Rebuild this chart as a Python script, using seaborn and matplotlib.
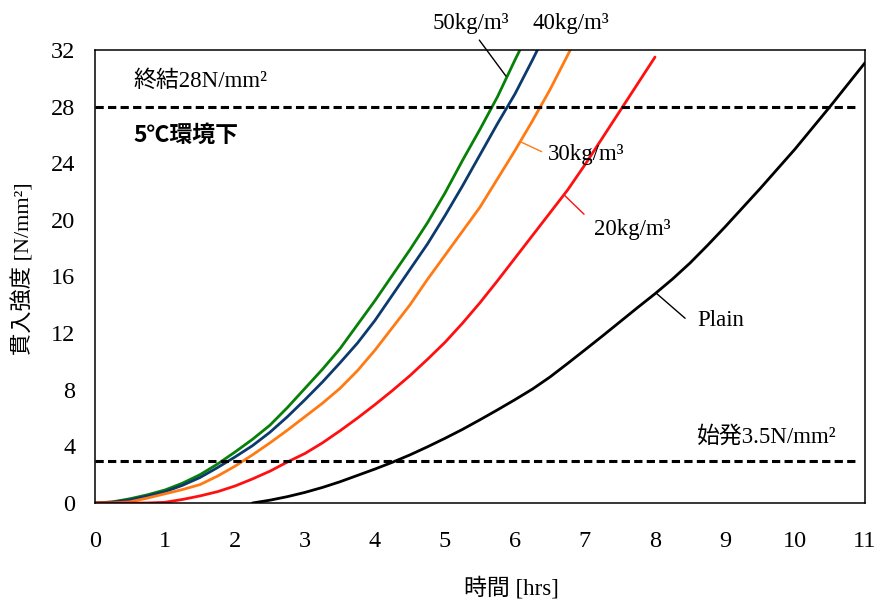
import numpy as np
import pandas as pd
import matplotlib
matplotlib.use("Agg")
import matplotlib.pyplot as plt
import seaborn as sns

# ---- data ----
x_50 = [0, 0.25, 0.5, 0.75, 1.0, 1.25, 1.5, 1.75, 2.0, 2.25, 2.5, 2.75, 3.0, 3.25, 3.5,
        3.75, 4.0, 4.25, 4.5, 4.75, 5.0, 5.25, 5.5, 5.75, 6.0, 6.07]
y_50 = [0, 0.08, 0.3, 0.58, 0.92, 1.4, 2.0, 2.75, 3.6, 4.5, 5.5, 6.75, 8.1, 9.45, 10.9,
        12.6, 14.3, 16.1, 17.9, 19.8, 21.9, 24.2, 26.4, 28.7, 31.3, 32.0]

x_40 = [0, 0.25, 0.5, 0.75, 1.0, 1.25, 1.5, 1.75, 2.0, 2.25, 2.5, 2.75, 3.0, 3.25, 3.5,
        3.75, 4.0, 4.25, 4.5, 4.75, 5.0, 5.25, 5.5, 5.75, 6.0, 6.25, 6.32]
y_40 = [0, 0.06, 0.22, 0.5, 0.8, 1.25, 1.8, 2.5, 3.25, 4.05, 5.0, 6.1, 7.3, 8.55, 9.9,
        11.3, 12.9, 14.7, 16.5, 18.3, 20.3, 22.4, 24.6, 26.8, 28.9, 31.3, 32.0]

x_30 = [0, 0.25, 0.5, 0.75, 1.0, 1.25, 1.5, 1.75, 2.0, 2.25, 2.5, 2.75, 3.0, 3.25, 3.5,
        3.75, 4.0, 4.25, 4.5, 4.75, 5.0, 5.25, 5.5, 5.75, 6.0, 6.25, 6.5, 6.79]
y_30 = [0, 0.0, 0.08, 0.35, 0.65, 0.95, 1.3, 1.9, 2.6, 3.4, 4.25, 5.15, 6.1, 7.05, 8.1,
        9.35, 10.8, 12.4, 14.0, 15.8, 17.5, 19.2, 20.9, 22.9, 24.9, 27.0, 29.2, 32.0]

x_20 = [0, 0.5, 0.75, 1.0, 1.25, 1.5, 1.75, 2.0, 2.25, 2.5, 2.75, 3.0, 3.25, 3.5, 3.75,
        4.0, 4.25, 4.5, 4.75, 5.0, 5.25, 5.5, 5.75, 6.0, 6.25, 6.5, 6.75, 7.0, 7.25,
        7.5, 7.75, 8.0]
y_20 = [0, 0.0, 0.0, 0.05, 0.25, 0.5, 0.8, 1.2, 1.7, 2.25, 2.9, 3.5, 4.25, 5.1, 6.0,
        6.95, 7.95, 9.0, 10.15, 11.35, 12.7, 14.15, 15.7, 17.3, 18.9, 20.5, 22.1, 23.9, 25.8,
        27.7, 29.6, 31.5]

x_plain = [2.25, 2.5, 2.75, 3.0, 3.25, 3.5, 3.75, 4.0, 4.25, 4.5, 4.75, 5.0, 5.25, 5.5,
           5.75, 6.0, 6.25, 6.5, 6.75, 7.0, 7.25, 7.5, 7.75, 8.0, 8.25, 8.5, 8.75, 9.0,
           9.25, 9.5, 9.75, 10.0, 10.25, 10.5, 10.75, 11.0]
y_plain = [0, 0.2, 0.45, 0.75, 1.1, 1.5, 1.95, 2.4, 2.88, 3.4, 3.97, 4.57, 5.2, 5.88,
           6.58, 7.3, 8.05, 8.9, 9.85, 10.82, 11.8, 12.8, 13.8, 14.78, 15.82, 16.95, 18.2, 19.5,
           20.85, 22.2, 23.6, 25.0, 26.5, 28.0, 29.55, 31.1]

series_names = ["50kg/m³", "40kg/m³", "30kg/m³", "20kg/m³", "Plain"]
series_colors = ["#078007", "#0b3a6e", "#ff7a12", "#ff1010", "#000000"]

initial_set = 3.0    # 始発
final_set = 28.0     # 終結

x_ticks = list(range(0, 12))
y_ticks = list(range(0, 33, 4))

# ---- build long table ----
frames = []
for name, xs, ys in zip(series_names,
                        [x_50, x_40, x_30, x_20, x_plain],
                        [y_50, y_40, y_30, y_20, y_plain]):
    frames.append(pd.DataFrame({"time": xs, "strength": ys, "series": name}))
df = pd.concat(frames, ignore_index=True)

sns.set_theme(style="white")
plt.rcParams["font.family"] = ["Liberation Serif", "Noto Sans CJK JP", "DejaVu Sans"]
for k in ("text.color", "axes.labelcolor", "xtick.color", "ytick.color", "axes.edgecolor"):
    plt.rcParams[k] = "black"

fig = plt.figure(figsize=(8.76, 6.05), dpi=100)
ax = fig.add_axes([95 / 876, 1 - 503 / 605, 770 / 876, 453 / 605])

sns.lineplot(data=df, x="time", y="strength", hue="series",
             palette=dict(zip(series_names, series_colors)),
             hue_order=series_names, estimator=None, sort=False,
             linewidth=2.0, legend=False, ax=ax)

# threshold lines
for yv in (initial_set, final_set):
    ax.hlines(yv, 0, 10.9, colors="black", linestyles=(0, (2.7, 1.4)), linewidth=2.2)

ax.set_xlim(0, 11)
ax.set_ylim(0, 32)
ax.set_xticks(x_ticks)
ax.set_yticks(y_ticks)
ax.tick_params(direction="in", length=6, width=1.0, labelsize=17.5, colors="black")
ax.tick_params(axis="x", pad=20)
ax.tick_params(axis="y", pad=14)
for s in ax.spines.values():
    s.set_color("black")
    s.set_linewidth(1.1)
    s.set_visible(True)

ax.set_xlabel("")
ax.set_ylabel("")
fig.text(511 / 876, 1 - 588 / 605, "時間 [hrs]", fontsize=16.5, ha="center", va="center")
fig.text(23 / 876, 1 - 269 / 605, "貫入強度 [N/mm²]", fontsize=16, rotation=90,
         ha="center", va="center")

ser = ["Liberation Serif", "Noto Sans CJK JP"]
fs = 16.5
# series labels with leader lines
ax.text(5.37, 33.9, "50kg/m³", fontsize=fs, family=ser, ha="center", va="center", clip_on=False)
ax.plot([5.49, 5.87], [32.7, 30.16], color="black", lw=1.0, clip_on=False)
ax.text(6.8, 33.9, "40kg/m³", fontsize=fs, family=ser, ha="center", va="center", clip_on=False)

ax.text(6.47, 24.6, "30kg/m³", fontsize=fs, family=ser, ha="left", va="center")
ax.plot([6.094, 6.38], [25.48, 24.82], color="#ff7a12", lw=1.0)

ax.text(7.13, 19.3, "20kg/m³", fontsize=fs, family=ser, ha="left", va="center")
ax.plot([6.704, 6.986], [21.75, 20.4], color="#ff1010", lw=1.0)

ax.text(8.61, 12.9, "Plain", fontsize=fs, family=ser, ha="left", va="center")
ax.plot([8.02, 8.43], [14.81, 13.05], color="black", lw=1.0)

# threshold labels
ax.text(0.543, 29.8, "終結28N/mm²", fontsize=fs, family=ser, ha="left", va="center")
ax.text(0.543, 26.0, "5℃環境下", fontsize=16.5, family=["Noto Sans CJK JP"],
        fontweight="bold", ha="left", va="center")
ax.text(8.6, 4.66, "始発3.5N/mm²", fontsize=fs, family=ser, ha="left", va="center")

fig.savefig("out.png", dpi=100)
